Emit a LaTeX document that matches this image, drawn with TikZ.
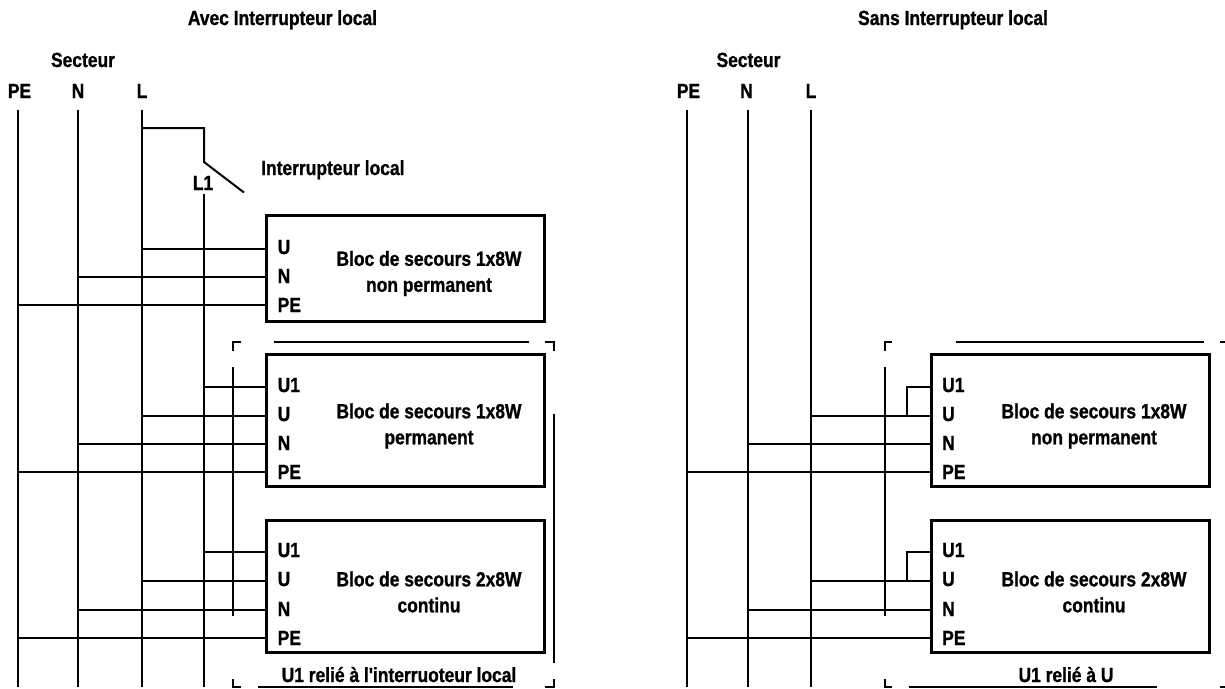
\documentclass[tikz,border=0pt]{standalone}
\usepackage{fontspec}
\setmainfont[Ligatures=TeXOff,BoldFont={Liberation Sans Bold},BoldFeatures={FakeStretch=0.85,FakeBold=1}]{Liberation Sans}
\tikzset{
  x=1pt,y=-1pt,
  wire/.style={line width=2pt,line cap=butt,line join=miter},
  blocbox/.style={draw,line width=3pt,outer sep=0pt,minimum width=278pt,anchor=north west,inner sep=0pt},
  lbl/.style={inner sep=0pt,font=\bfseries\fontsize{20.5}{26}\selectfont,text height=14pt,text depth=0pt},
  term/.style={lbl,anchor=west},
  txt/.style={inner sep=0pt,font=\bfseries\fontsize{20.5}{26}\selectfont,align=center},
  bar/.style={wire},
}
\begin{document}
\begin{tikzpicture}
\useasboundingbox (0,0) rectangle (1225,688);
% ---------- LEFT ----------
\node[lbl] (t1) at (282.5,18) {Avec Interrupteur local};
\node[lbl] (s1) at (83,60) {Secteur};
\node[lbl] (lpe) at (19.5,91) {PE};
\node[lbl] (ln) at (78,91) {N};
\node[lbl] (ll) at (142,91) {L};
\node[lbl] (ll1) at (203,183) {L1};
\node[lbl,anchor=west] (isw) at (261,168) {Interrupteur local};
\coordinate (pA) at (18,110); \coordinate (pB) at (18,687);
\coordinate (nA) at (78,110); \coordinate (nB) at (78,687);
\coordinate (lA) at (142,110); \coordinate (lB) at (142,687);
\coordinate (j1) at (204,128);
\coordinate (sw) at (204,162);
\coordinate (swe) at (244,192.5);
\coordinate (l1A) at (204,194); \coordinate (l1B) at (204,687);
\draw[wire] (pA) -- (pB);
\draw[wire] (nA) -- (nB);
\draw[wire] (lA) -- (lB);
\draw[wire] (l1A) -- (l1B);
\draw[wire] (lA |- j1) -- (j1) -- (sw) -- (swe);
% boxes
\node[blocbox,minimum height=106pt] (b1) at (266.5,215.5) {};
\node[blocbox,minimum height=132pt] (b2) at (266.5,354.5) {};
\node[blocbox,minimum height=132pt] (b3) at (266.5,520.5) {};
\node[txt] (b1t) at (429,273.5) {Bloc de secours 1x8W\\non permanent};
\node[txt] (b2t) at (429,426) {Bloc de secours 1x8W\\permanent};
\node[txt] (b3t) at (429,592) {Bloc de secours 2x8W\\continu};
% terminals
\node[term] (b1U) at (277.5,247) {U};
\node[term] (b1N) at (277.5,276) {N};
\node[term] (b1P) at (277.5,305) {PE};
\node[term] (b2V) at (277.5,385) {U1};
\node[term] (b2U) at (277.5,414) {U};
\node[term] (b2N) at (277.5,443) {N};
\node[term] (b2P) at (277.5,472) {PE};
\node[term] (b3V) at (277.5,550) {U1};
\node[term] (b3U) at (277.5,579) {U};
\node[term] (b3N) at (277.5,609) {N};
\node[term] (b3P) at (277.5,638) {PE};
% wires
\draw[wire] (lA |- 0,249) -- (266.5,249);
\draw[wire] (nA |- 0,277) -- (266.5,277);
\draw[wire] (pA |- 0,305) -- (266.5,305);
\draw[wire] (l1A |- 0,387) -- (266.5,387);
\draw[wire] (lA |- 0,416) -- (266.5,416);
\draw[wire] (nA |- 0,444) -- (266.5,444);
\draw[wire] (pA |- 0,472) -- (266.5,472);
\draw[wire] (l1A |- 0,552) -- (266.5,552);
\draw[wire] (lA |- 0,581) -- (266.5,581);
\draw[wire] (nA |- 0,610) -- (266.5,610);
\draw[wire] (pA |- 0,638) -- (266.5,638);
% bracket frame
\draw[bar] (233,351) -- (233,342) -- (241,342);
\draw[bar] (274,342) -- (529,342);
\draw[bar] (545,342) -- (554,342) -- (554,351);
\draw[bar] (233,367) -- (233,616);
\draw[bar] (554,414) -- (554,663);
\draw[bar] (233,679) -- (233,687) -- (241,687);
\draw[bar] (258,687) -- (513,687);
\draw[bar] (545,687) -- (554,687) -- (554,679);
\node[lbl] (f1) at (399,675) {U1 relié à l'interruoteur local};
% ---------- RIGHT ----------
\node[lbl] (t2) at (953,18) {Sans Interrupteur local};
\node[lbl] (s2) at (748.5,60) {Secteur};
\node[lbl] (rpe) at (688.5,91) {PE};
\node[lbl] (rn) at (746.5,91) {N};
\node[lbl] (rl) at (811,91) {L};
\coordinate (rpA) at (687,110); \coordinate (rpB) at (687,687);
\coordinate (rnA) at (748,110); \coordinate (rnB) at (748,687);
\coordinate (rlA) at (811,110); \coordinate (rlB) at (811,687);
\draw[wire] (rpA) -- (rpB);
\draw[wire] (rnA) -- (rnB);
\draw[wire] (rlA) -- (rlB);
\node[blocbox,minimum height=132pt] (c2) at (931.5,354.5) {};
\node[blocbox,minimum height=132pt] (c3) at (931.5,520.5) {};
\node[txt] (c2t) at (1094,426) {Bloc de secours 1x8W\\non permanent};
\node[txt] (c3t) at (1094,592) {Bloc de secours 2x8W\\continu};
\node[term] (c2V) at (942,385) {U1};
\node[term] (c2U) at (942,414) {U};
\node[term] (c2N) at (942,443) {N};
\node[term] (c2P) at (942,472) {PE};
\node[term] (c3V) at (942,550) {U1};
\node[term] (c3U) at (942,579) {U};
\node[term] (c3N) at (942,609) {N};
\node[term] (c3P) at (942,638) {PE};
\draw[wire] (931,387) -- (907,387) -- (907,416);
\draw[wire] (rlA |- 0,416) -- (931,416);
\draw[wire] (rnA |- 0,444) -- (931,444);
\draw[wire] (rpA |- 0,472) -- (931,472);
\draw[wire] (931,552) -- (907,552) -- (907,581);
\draw[wire] (rlA |- 0,581) -- (931,581);
\draw[wire] (rnA |- 0,610) -- (931,610);
\draw[wire] (rpA |- 0,638) -- (931,638);
\draw[bar] (885,351) -- (885,342) -- (892,342);
\draw[bar] (955.5,342) -- (1204,342);
\draw[bar] (1220,342) -- (1225,342);
\draw[bar] (885,367) -- (885,616);
\draw[bar] (885,679) -- (885,687) -- (892,687);
\draw[bar] (908.6,687) -- (1157,687);
\draw[bar] (1220,687) -- (1225,687);
\node[lbl] (f2) at (1066,675) {U1 relié à U};
\end{tikzpicture}
\end{document}
